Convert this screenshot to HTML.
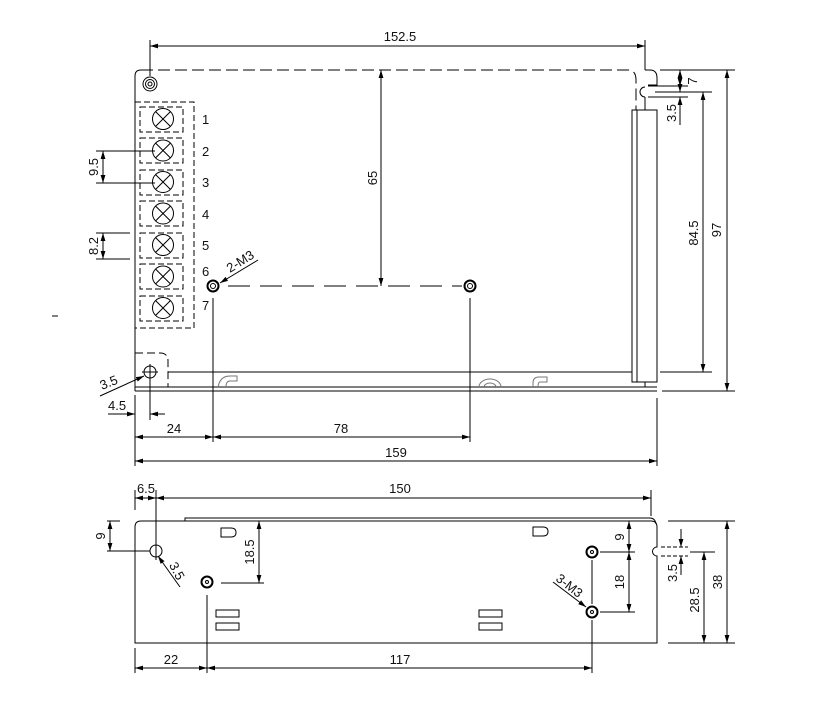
<!DOCTYPE html>
<html><head><meta charset="utf-8"><style>
html,body{margin:0;padding:0;background:#fff}
svg{display:block}
text{font-family:"Liberation Sans",Arial,sans-serif;font-size:13px;fill:#111}
</style></head><body>
<svg width="839" height="702" viewBox="0 0 839 702" xmlns="http://www.w3.org/2000/svg">
<defs>
<marker id="a" viewBox="0 0 10 6" refX="10" refY="3" markerWidth="8" markerHeight="5" orient="auto-start-reverse" markerUnits="userSpaceOnUse"><path d="M0,0 L10,3 L0,6z" fill="#000"/></marker>
</defs>
<g stroke="#000" stroke-width="1" fill="none">
<path d="M135,391 V76 Q135,70 141,70" />
<path d="M141,70 H628 Q636,70 636,80 V110" stroke-dasharray="12,5"/>
<path d="M645,70 H650 Q657,70 657,78 V85 H648 M645,87 A5,5 0 0 0 645,97 M645,97 V110"/>
<rect x="632" y="110" width="25" height="272"/>
<line x1="637" y1="110" x2="637" y2="382"/>
<line x1="168" y1="372" x2="632" y2="372"/>
<line x1="135" y1="387" x2="657" y2="387"/>
<line x1="135" y1="391" x2="657" y2="391"/>
<line x1="645" y1="382" x2="645" y2="387"/>
<circle cx="150" cy="84" r="7"/><circle cx="150" cy="84" r="4.5"/><circle cx="150" cy="84" r="2"/>
<path d="M135,102 H194 V328 H135" stroke-dasharray="6,3"/>
<g stroke-dasharray="6,3">
<rect x="140" y="107" width="43" height="25"/><rect x="140" y="138" width="43" height="25"/><rect x="140" y="170" width="43" height="25"/><rect x="140" y="201" width="43" height="25"/><rect x="140" y="233" width="43" height="25"/><rect x="140" y="264" width="43" height="25"/><rect x="140" y="296" width="43" height="25"/>
</g>
<g id="t"><circle cx="163" cy="119" r="10.5"/><path d="M155.6,111.6 L170.4,126.4 M170.4,111.6 L155.6,126.4"/></g>
<use href="#t" y="31.5"/><use href="#t" y="63"/><use href="#t" y="94.5"/><use href="#t" y="126"/><use href="#t" y="157.5"/><use href="#t" y="189"/>
<line x1="96" y1="151" x2="155" y2="151"/><line x1="96" y1="183" x2="155" y2="183"/>
<line x1="103" y1="151" x2="103" y2="183" marker-start="url(#a)" marker-end="url(#a)"/>
<line x1="96" y1="233" x2="130" y2="233"/><line x1="96" y1="259" x2="130" y2="259"/>
<line x1="103" y1="233" x2="103" y2="259" marker-start="url(#a)" marker-end="url(#a)"/>
<circle cx="213" cy="286" r="5.5" stroke-width="2"/><circle cx="213" cy="286" r="2.5"/>
<circle cx="470" cy="286" r="5.5" stroke-width="2"/><circle cx="470" cy="286" r="2.5"/>
<line x1="228" y1="286" x2="462" y2="286" stroke-dasharray="22,10"/>
<line x1="258" y1="260" x2="220" y2="283" marker-end="url(#a)"/>
<line x1="381" y1="70" x2="381" y2="286" marker-start="url(#a)" marker-end="url(#a)"/>
<path d="M135,353 H160 Q168,353 168,361 V387" stroke-dasharray="8,4"/>
<circle cx="150" cy="372" r="6"/>
<line x1="142" y1="372" x2="158" y2="372"/>
<line x1="150" y1="364" x2="150" y2="420"/>
<line x1="100" y1="396" x2="144" y2="376" marker-end="url(#a)"/>
<line x1="108" y1="414" x2="135" y2="414" marker-end="url(#a)"/>
<line x1="165" y1="414" x2="150" y2="414" marker-end="url(#a)"/>
<path d="M218,387 Q220,376 230,376 H237 V381 H230 Q226,381 226,387" stroke="#777"/>
<path d="M479,387 A11,8 0 0 1 501,387 M484,387 A6,4 0 0 1 496,387" stroke="#777"/>
<path d="M533,387 V383 Q533,377 539,377 H547 V382 H540 Q538,382 538,387" stroke="#777"/>
<line x1="135" y1="395" x2="135" y2="466"/>
<line x1="657" y1="398" x2="657" y2="466"/>
<line x1="213" y1="298" x2="213" y2="442"/>
<line x1="470" y1="298" x2="470" y2="442"/>
<line x1="135" y1="437" x2="213" y2="437" marker-start="url(#a)" marker-end="url(#a)"/>
<line x1="213" y1="437" x2="470" y2="437" marker-start="url(#a)" marker-end="url(#a)"/>
<line x1="135" y1="461" x2="657" y2="461" marker-start="url(#a)" marker-end="url(#a)"/>
<line x1="150" y1="40" x2="150" y2="76"/>
<line x1="645" y1="40" x2="645" y2="70"/>
<line x1="150" y1="46" x2="645" y2="46" marker-start="url(#a)" marker-end="url(#a)"/>
<line x1="660" y1="70" x2="735" y2="70"/>
<line x1="655" y1="92" x2="712" y2="92"/>
<line x1="648" y1="86" x2="688" y2="86"/>
<line x1="648" y1="97" x2="688" y2="97"/>
<line x1="680" y1="70" x2="680" y2="92" marker-start="url(#a)" marker-end="url(#a)"/>
<line x1="680" y1="76" x2="680" y2="86" marker-end="url(#a)"/>
<line x1="680" y1="125" x2="680" y2="97" marker-end="url(#a)"/>
<line x1="660" y1="372" x2="712" y2="372"/>
<line x1="662" y1="391" x2="735" y2="391"/>
<line x1="703" y1="92" x2="703" y2="372" marker-start="url(#a)" marker-end="url(#a)"/>
<line x1="727" y1="70" x2="727" y2="391" marker-start="url(#a)" marker-end="url(#a)"/>

<path d="M135,643 V527 Q135,521 141,521 H651 Q657,521 657,527 V547 A4.5,4.5 0 0 0 657,556 V643 Z"/>
<path d="M185,521 V518 H650 Q655,518 656,524"/>
<circle cx="156" cy="551" r="6"/>
<line x1="156" y1="490" x2="156" y2="560"/>
<circle cx="207" cy="582" r="5.5" stroke-width="2"/><circle cx="207" cy="582" r="1.5"/>
<circle cx="592" cy="552" r="5.5" stroke-width="2"/><circle cx="592" cy="552" r="1.5"/>
<circle cx="592" cy="612" r="5.5" stroke-width="2"/><circle cx="592" cy="612" r="1.5"/>
<path d="M221,528 H231 Q236,528 236,532.5 Q236,537 231,537 H221 Z"/>
<path d="M533,527 H543 Q548,527 548,531.5 Q548,536 543,536 H533 Z"/>
<rect x="216" y="610" width="23" height="7"/><rect x="216" y="623" width="23" height="7"/>
<rect x="479" y="610" width="23" height="7"/><rect x="479" y="623" width="23" height="7"/>
<line x1="135" y1="490" x2="135" y2="510"/>
<line x1="651" y1="490" x2="651" y2="516"/>
<line x1="156" y1="498" x2="651" y2="498" marker-start="url(#a)" marker-end="url(#a)"/>
<line x1="135" y1="498" x2="156" y2="498" marker-start="url(#a)" marker-end="url(#a)"/>
<line x1="107" y1="521" x2="120" y2="521"/><line x1="107" y1="551" x2="150" y2="551"/>
<line x1="110" y1="521" x2="110" y2="551" marker-start="url(#a)" marker-end="url(#a)"/>
<line x1="180" y1="587" x2="158" y2="556" marker-end="url(#a)"/>
<line x1="221" y1="583" x2="264" y2="583"/>
<line x1="259" y1="521" x2="259" y2="583" marker-start="url(#a)" marker-end="url(#a)"/>
<line x1="600" y1="552" x2="635" y2="552"/><line x1="600" y1="612" x2="635" y2="612"/>
<line x1="629" y1="521" x2="629" y2="552" marker-start="url(#a)" marker-end="url(#a)"/>
<line x1="629" y1="552" x2="629" y2="612" marker-start="url(#a)" marker-end="url(#a)"/>
<line x1="592" y1="560" x2="592" y2="604"/>
<line x1="553" y1="582" x2="586" y2="607" marker-end="url(#a)"/>
<line x1="661" y1="547" x2="688" y2="547" stroke-dasharray="4,2"/><line x1="661" y1="556" x2="688" y2="556" stroke-dasharray="4,2"/>
<line x1="681" y1="529" x2="681" y2="547" marker-end="url(#a)"/>
<line x1="681" y1="575" x2="681" y2="556" marker-end="url(#a)"/>
<line x1="690" y1="552" x2="715" y2="552"/>
<line x1="704" y1="552" x2="704" y2="643" marker-start="url(#a)" marker-end="url(#a)"/>
<line x1="668" y1="521" x2="735" y2="521"/><line x1="668" y1="643" x2="735" y2="643"/>
<line x1="727" y1="521" x2="727" y2="643" marker-start="url(#a)" marker-end="url(#a)"/>
<line x1="135" y1="648" x2="135" y2="673"/>
<line x1="207" y1="595" x2="207" y2="673"/>
<line x1="592" y1="620" x2="592" y2="673"/>
<line x1="135" y1="668" x2="207" y2="668" marker-start="url(#a)" marker-end="url(#a)"/>
<line x1="207" y1="668" x2="592" y2="668" marker-start="url(#a)" marker-end="url(#a)"/>
<line x1="52" y1="316" x2="58" y2="316"/>
</g>
<text x="400" y="41" text-anchor="middle">152.5</text>
<text x="202" y="124">1</text><text x="202" y="156">2</text><text x="202" y="187">3</text><text x="202" y="219">4</text><text x="202" y="250">5</text><text x="202" y="276">6</text><text x="202" y="310">7</text>
<text transform="translate(98,167) rotate(-90)" text-anchor="middle">9.5</text>
<text transform="translate(98,246) rotate(-90)" text-anchor="middle">8.2</text>
<text transform="translate(377,178) rotate(-90)" text-anchor="middle">65</text>
<text transform="translate(230,273) rotate(-32)">2-M3</text>
<text transform="translate(102,390) rotate(-22)">3.5</text>
<text x="108" y="410">4.5</text>
<text x="174" y="433" text-anchor="middle">24</text>
<text x="341" y="433" text-anchor="middle">78</text>
<text x="396" y="457" text-anchor="middle">159</text>
<text transform="translate(697,81) rotate(-90)" text-anchor="middle">7</text>
<text transform="translate(676,113) rotate(-90)" text-anchor="middle">3.5</text>
<text transform="translate(698,233) rotate(-90)" text-anchor="middle">84.5</text>
<text transform="translate(721,230) rotate(-90)" text-anchor="middle">97</text>
<text x="146" y="493" text-anchor="middle">6.5</text>
<text x="400" y="493" text-anchor="middle">150</text>
<text transform="translate(105,536) rotate(-90)" text-anchor="middle">9</text>
<text transform="translate(173,573) rotate(62)" text-anchor="middle">3.5</text>
<text transform="translate(254,552) rotate(-90)" text-anchor="middle">18.5</text>
<text transform="translate(624,537) rotate(-90)" text-anchor="middle">9</text>
<text transform="translate(624,582) rotate(-90)" text-anchor="middle">18</text>
<text transform="translate(555,580) rotate(38)">3-M3</text>
<text transform="translate(677,573) rotate(-90)" text-anchor="middle">3.5</text>
<text transform="translate(699,600) rotate(-90)" text-anchor="middle">28.5</text>
<text transform="translate(722,582) rotate(-90)" text-anchor="middle">38</text>
<text x="171" y="664" text-anchor="middle">22</text>
<text x="400" y="664" text-anchor="middle">117</text>
</svg>
</body></html>
